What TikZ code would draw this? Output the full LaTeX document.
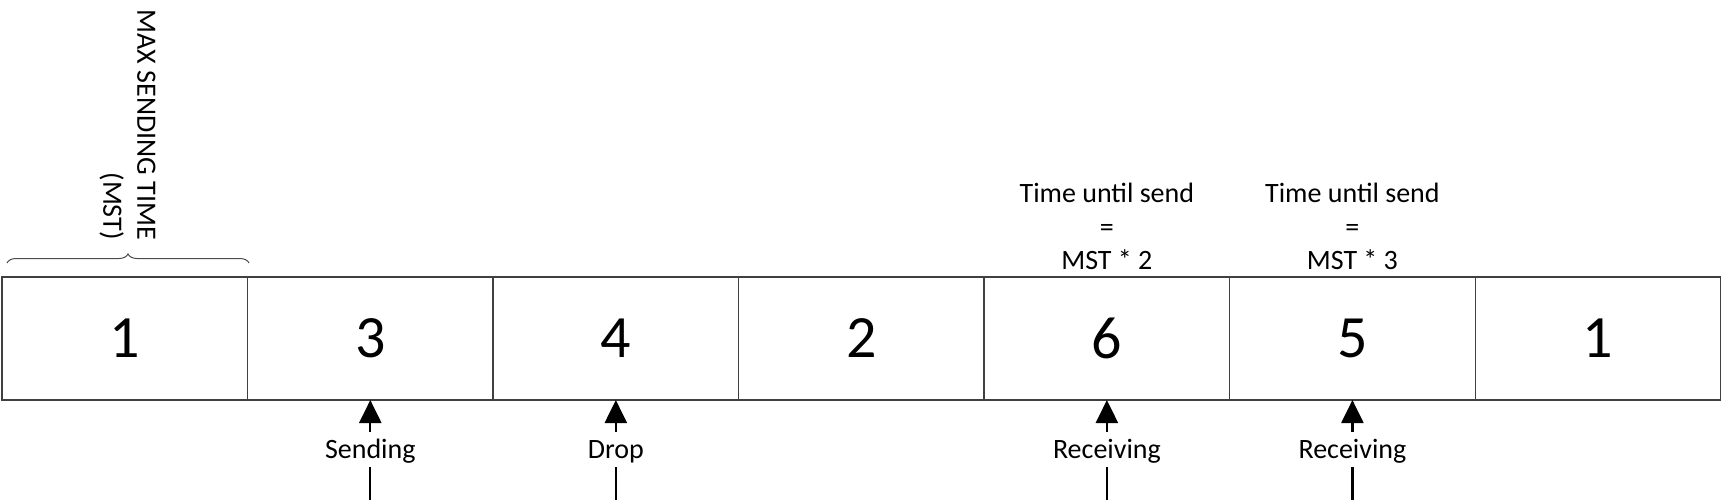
\documentclass[tikz,border=0pt]{standalone}
\usepackage{fontspec}
\setmainfont{Carlito}
\usetikzlibrary{arrows.meta,decorations.pathreplacing}
\begin{document}
\begin{tikzpicture}[x=1pt,y=-1pt,
  cell/.style={draw=black!75, line width=1.3pt, minimum width=245.53pt, minimum height=123pt, inner sep=0pt, outer sep=0pt, font=\fontsize{60}{72}\selectfont},
  lbl/.style={font=\fontsize{28}{33.5}\selectfont, inner sep=0pt, text height=26pt, text depth=9pt, anchor=base},
  toplbl/.style={font=\fontsize{28}{33.5}\selectfont, align=center, inner sep=0pt, text depth=0pt, anchor=south},
  up/.style={-{Triangle[length=23pt,width=22pt]}, line width=2.3pt},
  stem/.style={line width=2.3pt}]
\useasboundingbox (0,0) rectangle (1724,500);
% cells
\node[cell] (b1) at (124.77,338.5) {1};
\node[cell] (b2) at (370.30,338.5) {3};
\node[cell] (b3) at (615.83,338.5) {4};
\node[cell] (b4) at (861.36,338.5) {2};
\node[cell] (b5) at (1106.89,338.5) {6};
\node[cell] (b6) at (1352.42,338.5) {5};
\node[cell] (b7) at (1597.95,338.5) {1};
% brace and MST label
\coordinate (br1) at (7,263);
\coordinate (br2) at (249,263);
\draw[decorate, decoration={brace, amplitude=9pt}, draw=black!70, line width=1pt] (br1) -- (br2);
\node[font=\fontsize{28}{34}\selectfont, rotate=-90, align=right, anchor=east, inner sep=0pt] (mst) at (127.5,240) {MAX SENDING TIME\\(MST)};
% top labels
\node[toplbl] (t5) at (1106.89,270) {Time until send\\=\\MST * 2};
\node[toplbl] (t6) at (1352.42,270) {Time until send\\=\\MST * 3};
% bottom labels and arrows
\node[lbl] (s2) at (370.30,458) {Sending};
\node[lbl] (s3) at (615.83,458) {Drop};
\node[lbl] (s5) at (1106.89,458) {Receiving};
\node[lbl] (s6) at (1352.42,458) {Receiving};
\coordinate (e2) at (370.30,500);
\coordinate (e3) at (615.83,500);
\coordinate (e5) at (1106.89,500);
\coordinate (e6) at (1352.42,500);
\draw[up] (s2.north) -- (b2.south);
\draw[up] (s3.north) -- (b3.south);
\draw[up] (s5.north) -- (b5.south);
\draw[up] (s6.north) -- (b6.south);
\draw[stem] (s2.south) -- (e2);
\draw[stem] (s3.south) -- (e3);
\draw[stem] (s5.south) -- (e5);
\draw[stem] (s6.south) -- (e6);
\end{tikzpicture}
\end{document}
